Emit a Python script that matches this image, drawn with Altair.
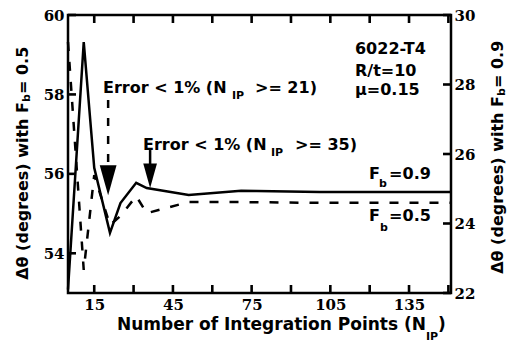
import altair as alt
import pandas as pd

# ---- data ----
n_ip = [5, 11, 15, 21, 25, 31, 35, 51, 71, 101, 151]
theta_fb09 = [22.1, 29.22, 25.6, 23.73, 24.59, 25.17, 25.02, 24.82, 24.94, 24.91, 24.91]   # right axis (solid)
theta_fb05 = [59.32, 53.58, 55.97, 54.71, 54.94, 55.44, 55.01, 55.29, 55.29, 55.27, 55.27]  # left axis (dashed)

x_ticks = [15.0, 30.0, 45.0, 60.0, 75.0, 90.0, 105.0, 120.0, 135.0, 150.0]
left_ticks = [54.0, 56.0, 58.0, 60.0]
right_ticks = [22.0, 24.0, 26.0, 28.0, 30.0]

# arrows (x in N_IP, y in left-axis units)
arrow_n = [20.3, 36.3]
arrow_top = [57.86, 56.6]
arrow_bottom = [56.2, 56.22]
arrowhead_y = [55.84, 55.95]

# annotations (x in N_IP, y in left-axis units)
note_text = ["Error < 1% (N", ">= 21)", "Error < 1% (N", ">= 35)",
             "6022-T4", "R/t=10", "\u03bc=0.15", "F", "=0.9", "F", "=0.5"]
note_n = [18.34, 76.28, 33.59, 91.53, 114.4, 114.4, 114.4, 119.74, 127.4, 119.74, 127.4]
note_y = [58.04, 58.04, 56.60, 56.60, 59.02, 58.46, 57.99, 55.87, 55.87, 54.81, 54.81]
sub_text = ["IP", "IP", "b", "b"]
sub_n = [67.52, 82.38, 123.6, 123.9]
sub_y = [57.88, 56.45, 55.67, 54.56]

y_title_left = ["\u0394\u03b8  (degrees) with F", "b", " = 0.5"]
y_title_right = ["\u0394\u03b8  (degrees) with F", "b", " = 0.9"]
x_title = ["Number of Integration Points (N", "IP", ")"]

# ---- scales / axes ----
X_DOM, YL_DOM, YR_DOM = [5, 151], [53, 60], [22, 30]
xs = alt.Scale(domain=X_DOM, nice=False, zero=False)
yl = alt.Scale(domain=YL_DOM, nice=False, zero=False)
yr = alt.Scale(domain=YR_DOM, nice=False, zero=False)

lab = dict(labelFont="DejaVu Serif", labelFontWeight="bold", labelFontSize=15,
           labelColor="black", labelFlush=False, labelOverlap=False)
plain = dict(domain=False, grid=False, title=None, ticks=False)

x_bottom = alt.Axis(orient="bottom", values=x_ticks,
                    labelExpr="datum.value % 30 == 15 ? datum.label : ''",
                    labelPadding=4, **plain, **lab)
y_left = alt.Axis(orient="left", values=left_ticks, labelPadding=4, **plain, **lab)
y_right = alt.Axis(orient="right", values=right_ticks, labelPadding=3, **plain, **lab)

W, H = 383, 278
TL, TW = 8, 2.6          # tick length / width in pixels
ux = (X_DOM[1] - X_DOM[0]) / W     # data units per pixel
uyl = (YL_DOM[1] - YL_DOM[0]) / H
uyr = (YR_DOM[1] - YR_DOM[0]) / H

df = pd.DataFrame({"n": n_ip, "fb05": theta_fb05, "fb09": theta_fb09})
arrows = pd.DataFrame({"n": arrow_n, "top": arrow_top, "bottom": arrow_bottom, "head": arrowhead_y})
notes = pd.DataFrame({"t": note_text, "n": note_n, "y": note_y})
subs = pd.DataFrame({"t": sub_text, "n": sub_n, "y": sub_y})
xt = pd.DataFrame({"tick_n": x_ticks})
ylt = pd.DataFrame({"tick_l": left_ticks})
yrt = pd.DataFrame({"tick_r": right_ticks})


def X(field):
    return alt.X(field, scale=xs, axis=x_bottom)


def YL(field):
    return alt.Y(field, scale=yl, axis=y_left)


def YR(field):
    return alt.Y(field, scale=yr, axis=y_right)


# ---- inward tick marks drawn as small rectangles through the scales ----
hx = TW / 2 * ux
bottom_ticks = alt.Chart(xt).transform_calculate(
    a=f"datum.tick_n - {hx}", b=f"datum.tick_n + {hx}",
    c=str(YL_DOM[0]), d=str(YL_DOM[0] + TL * uyl)).mark_rect(color="black", opacity=1).encode(
    x=X("a:Q"), x2="b:Q", y=YL("c:Q"), y2="d:Q")
top_ticks = alt.Chart(xt).transform_calculate(
    a=f"datum.tick_n - {hx}", b=f"datum.tick_n + {hx}",
    c=str(YL_DOM[1]), d=str(YL_DOM[1] - TL * uyl)).mark_rect(color="black", opacity=1).encode(
    x=X("a:Q"), x2="b:Q", y=YL("c:Q"), y2="d:Q")
hyl = TW / 2 * uyl
left_tick_marks = alt.Chart(ylt).transform_calculate(
    a=str(X_DOM[0]), b=str(X_DOM[0] + TL * ux),
    c=f"datum.tick_l - {hyl}", d=f"datum.tick_l + {hyl}").mark_rect(color="black", opacity=1).encode(
    x=X("a:Q"), x2="b:Q", y=YL("c:Q"), y2="d:Q")
hyr = TW / 2 * uyr
right_tick_marks = alt.Chart(yrt).transform_calculate(
    a=str(X_DOM[1] - TL * ux), b=str(X_DOM[1]),
    c=f"datum.tick_r - {hyr}", d=f"datum.tick_r + {hyr}").mark_rect(color="black", opacity=1).encode(
    x=X("a:Q"), x2="b:Q", y=YR("c:Q"), y2="d:Q")

dashed = alt.Chart(df).mark_line(color="black", strokeWidth=2.5, strokeDash=[9, 11]).encode(
    x=X("n:Q"), y=YL("fb05:Q"))

shaft1 = alt.Chart(arrows).transform_filter("datum.n < 30").mark_rule(
    color="black", strokeWidth=2.5, strokeDash=[8, 10]).encode(
    x=X("n:Q"), y=YL("top:Q"), y2="bottom:Q")
shaft2 = alt.Chart(arrows).transform_filter("datum.n > 30").mark_rule(
    color="black", strokeWidth=2.5).encode(
    x=X("n:Q"), y=YL("top:Q"), y2="bottom:Q")

head_shape = "M-0.56,-1L0.56,-1L0,1Z"
head1 = alt.Chart(arrows).transform_filter("datum.n < 30").mark_point(
    shape=head_shape, filled=True, size=900, color="black", opacity=1, strokeWidth=0).encode(
    x=X("n:Q"), y=YL("head:Q"))
head2 = alt.Chart(arrows).transform_filter("datum.n > 30").mark_point(
    shape=head_shape, filled=True, size=600, color="black", opacity=1, strokeWidth=0).encode(
    x=X("n:Q"), y=YL("head:Q"))

txt = dict(font="DejaVu Sans", fontWeight="bold", color="black", align="left", baseline="alphabetic")
note_layer = alt.Chart(notes).mark_text(fontSize=16, **txt).encode(
    x=X("n:Q"), y=YL("y:Q"), text="t:N")
sub_layer = alt.Chart(subs).mark_text(fontSize=11, **txt).encode(
    x=X("n:Q"), y=YL("y:Q"), text="t:N")


def label(s, x, y, size=16, align="left", angle=0):
    return alt.Chart(pd.DataFrame({"t": [s]})).mark_text(
        font="DejaVu Sans", fontWeight="bold", fontSize=size, color="black",
        align=align, baseline="alphabetic", angle=angle).encode(
        x=alt.value(x), y=alt.value(y), text="t:N")


titles = [
    label(y_title_left[0], -40, 87, align="right", angle=270),
    label(y_title_left[1], -38, 87, size=11, align="left", angle=270),
    label(y_title_left[2], -40, 79, align="left", angle=270),
    label(y_title_right[0], 435, 81, align="right", angle=270),
    label(y_title_right[1], 437, 81, size=11, align="left", angle=270),
    label(y_title_right[2], 435, 73, align="left", angle=270),
    label(x_title[0], 49, 315, size=17),
    label(x_title[1], 358, 325, size=11),
    label(x_title[2], 370, 315, size=17),
]

left_group = alt.layer(bottom_ticks, top_ticks, left_tick_marks, dashed, shaft1, shaft2,
                       head1, head2, note_layer, sub_layer, *titles)

solid = alt.Chart(df).mark_line(color="black", strokeWidth=2.5).encode(
    x=X("n:Q"),
    y=YR("fb09:Q"),
)
right_group = alt.layer(right_tick_marks, solid)

chart = alt.layer(left_group, right_group).resolve_scale(y="independent").resolve_axis(
    y="independent"
).properties(
    width=W, height=H,
    padding={"left": 68, "top": 15, "right": 56, "bottom": 52},
    autosize=alt.AutoSizeParams(type="none"),
    background="white",
).configure_view(stroke="black", strokeWidth=2.5)

chart.save("out.html", embed_options={"renderer": "svg", "actions": False})
